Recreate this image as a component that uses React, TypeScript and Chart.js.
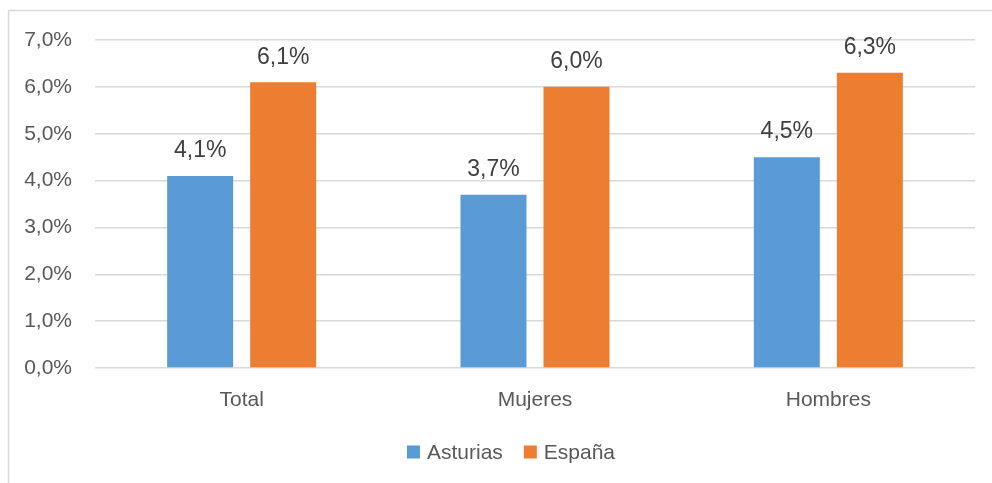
import React, { useEffect, useRef } from "react";
import { Chart, registerables } from "chart.js";

Chart.register(...registerables);

const categories = ["Total", "Mujeres", "Hombres"];
const asturias = [4.1, 3.7, 4.5];
const espana = [6.1, 6.0, 6.3];
const seriesNames = ["Asturias", "España"];
const yTicks = [0, 1, 2, 3, 4, 5, 6, 7];

const FONT = "'Liberation Sans', Arial, sans-serif";
const fmt = (v: number) => v.toFixed(1).replace(".", ",") + "%";

export default function App() {
  const ref = useRef<HTMLCanvasElement | null>(null);
  useEffect(() => {
    if (!ref.current) return;
    const framePlugin = {
      id: "frame",
      beforeDraw(chart: any) {
        const ctx = chart.ctx;
        ctx.save();
        ctx.fillStyle = "#ffffff";
        ctx.fillRect(0, 0, chart.width, chart.height);
        ctx.strokeStyle = "#d9d9d9";
        ctx.lineWidth = 1.5;
        ctx.beginPath();
        ctx.moveTo(8.5, chart.height + 2);
        ctx.lineTo(8.5, 10.5);
        ctx.lineTo(chart.width + 2, 10.5);
        ctx.stroke();
        ctx.restore();
      },
    };
    const labelPlugin = {
      id: "valueLabels",
      afterDatasetsDraw(chart: any) {
        const ctx = chart.ctx;
        ctx.save();
        ctx.font = `23px ${FONT}`;
        ctx.fillStyle = "#404040";
        ctx.textAlign = "center";
        ctx.textBaseline = "middle";
        chart.data.datasets.forEach((ds: any, di: number) => {
          const meta = chart.getDatasetMeta(di);
          meta.data.forEach((bar: any, i: number) => {
            ctx.fillText(fmt(ds.data[i]), bar.x, bar.y - 25);
          });
        });
        ctx.restore();
      },
    };
    const legendPlugin = {
      id: "customLegend",
      afterDraw(chart: any) {
        const ctx = chart.ctx;
        ctx.save();
        ctx.font = `21px ${FONT}`;
        ctx.textBaseline = "middle";
        ctx.textAlign = "left";
        const box = 13;
        const gapBoxText = 7;
        const gapItems = 21;
        const items = chart.data.datasets.map((ds: any) => ({
          label: ds.label,
          color: ds.backgroundColor,
          w: box + gapBoxText + ctx.measureText(ds.label).width,
        }));
        const total = items.reduce((s: number, it: any) => s + it.w, 0) + gapItems * (items.length - 1);
        let x = 511 - total / 2;
        const y = 452;
        items.forEach((it: any) => {
          ctx.fillStyle = it.color;
          ctx.fillRect(x, y - box / 2, box, box);
          ctx.fillStyle = "#595959";
          ctx.fillText(it.label, x + box + gapBoxText, y + 1);
          x += it.w + gapItems;
        });
        ctx.restore();
      },
    };
    const chart = new Chart(ref.current, {
      type: "bar",
      data: {
        labels: categories,
        datasets: [
          { label: seriesNames[0], data: asturias, backgroundColor: "#5b9bd5" },
          { label: seriesNames[1], data: espana, backgroundColor: "#ed7d31" },
        ],
      },
      options: {
        responsive: false,
        animation: false,
        events: [],
        layout: { padding: { top: 40, right: 17, left: 0, bottom: 65 } },
        datasets: {
          bar: { categoryPercentage: 0.566, barPercentage: 0.795 },
        },
        plugins: {
          legend: { display: false },
          tooltip: { enabled: false },
        },
        scales: {
          x: {
            grid: { display: false },
            border: { display: false },
            ticks: { color: "#595959", font: { family: FONT, size: 21 }, padding: 12 },
            afterFit(scale: any) {
              scale.height = 50;
            },
          },
          y: {
            min: yTicks[0],
            max: yTicks[yTicks.length - 1],
            afterBuildTicks(scale: any) {
              scale.ticks = yTicks.map((v) => ({ value: v }));
            },
            grid: { color: "#d9d9d9", lineWidth: 1.5, drawTicks: false },
            border: { display: false },
            ticks: {
              color: "#595959",
              font: { family: FONT, size: 21 },
              padding: 23,
              callback: (v: any) => fmt(Number(v)),
            },
            afterFit(scale: any) {
              scale.width = 95;
            },
          },
        },
      },
      plugins: [framePlugin, labelPlugin, legendPlugin],
    });
    return () => chart.destroy();
  }, []);
  return (
    <div style={{ position: "fixed", left: 0, top: 0, width: 992, height: 483 }}>
      <canvas ref={ref} width={992} height={483} style={{ display: "block" }} />
    </div>
  );
}
